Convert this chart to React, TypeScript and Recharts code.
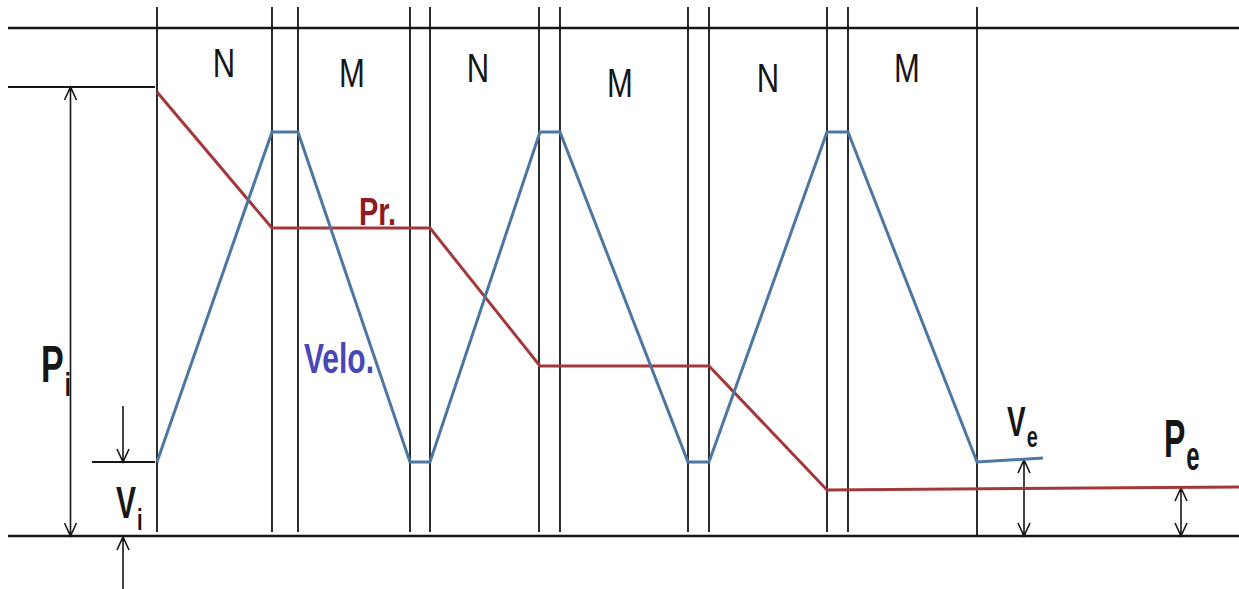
import React from 'react';
import { LineChart, Line, XAxis, YAxis, ReferenceLine, ReferenceDot } from 'recharts';

// ---- data (x = position along the process, v = magnitude above the base line) ----
const pressureX = [157, 272, 430, 540, 709, 827, 1239];
const pressureV = [444, 308, 308, 170, 170, 46, 49];
const velocityX = [157, 272, 298, 410, 430, 540, 560, 688, 709, 827, 848, 977, 1043];
const velocityV = [74, 404, 404, 74, 74, 404, 404, 74, 74, 404, 404, 74, 78];
const phaseBoundaries = [157, 272, 298, 410, 430, 539, 560, 688, 709, 827, 848, 977];
const phaseLabels = ['N', 'M', 'N', 'M', 'N', 'M'];
const seriesLabels = ['Pr.', 'Velo.'];

const pressureData = pressureX.map((x, i) => ({ x, v: pressureV[i] }));
const velocityData = velocityX.map((x, i) => ({ x, v: velocityV[i] }));

// ---- layout ----
const W = 1239;
const H = 589;
const X_DOMAIN: [number, number] = [0, 1239];
const Y_DOMAIN: [number, number] = [-53, 536];
const FONT = '"Liberation Sans", Arial, sans-serif';
const INK = '#161616';
const RED = '#a3383b';
const BLUE = '#4d77a3';

const phaseLabelPos = [
  { x: 224, v: 459 },
  { x: 352, v: 449 },
  { x: 478, v: 454 },
  { x: 620, v: 439 },
  { x: 768, v: 444 },
  { x: 907, v: 454 },
];

type TextSpec = {
  text: string; sub?: string; x: number; v: number; size: number; sy: number;
  subSize?: number; subDy?: number; color: string; bold: boolean; anchor: 'start' | 'middle';
};

const texts: TextSpec[] = [
  ...phaseLabels.map((t, i) => ({
    text: t, x: phaseLabelPos[i].x, v: phaseLabelPos[i].v, size: 31, sy: 1.3,
    color: INK, bold: false, anchor: 'middle' as const,
  })),
  { text: seriesLabels[0], x: 359, v: 311, size: 29, sy: 1.35, color: '#8e1b22', bold: true, anchor: 'start' },
  { text: seriesLabels[1], x: 304, v: 163, size: 30, sy: 1.4, color: '#4747b8', bold: true, anchor: 'start' },
  { text: 'P', sub: 'i', x: 41, v: 154, size: 34, sy: 1.5, subSize: 22, subDy: 9, color: INK, bold: true, anchor: 'start' },
  { text: 'V', sub: 'i', x: 116, v: 18, size: 30, sy: 1.45, subSize: 20, subDy: 8, color: INK, bold: true, anchor: 'start' },
  { text: 'V', sub: 'e', x: 1007, v: 100, size: 28, sy: 1.5, subSize: 20, subDy: 7, color: INK, bold: true, anchor: 'start' },
  { text: 'P', sub: 'e', x: 1164, v: 79, size: 32, sy: 1.7, subSize: 24, subDy: 7.5, color: INK, bold: true, anchor: 'start' },
];

type Seg = { x1: number; v1: number; x2: number; v2: number; w: number };
const rules: Seg[] = [
  { x1: 8, v1: 508, x2: 1239, v2: 508, w: 2.5 },
  { x1: 8, v1: 0, x2: 1239, v2: 0, w: 2.5 },
  { x1: 8, v1: 449, x2: 155, v2: 449, w: 2.2 },
  { x1: 92, v1: 74, x2: 155, v2: 74, w: 2.2 },
];

type Arrow = { x: number; v1: number; v2: number; headStart: boolean; headEnd: boolean };
const arrows: Arrow[] = [
  { x: 70.5, v1: 449, v2: 0, headStart: true, headEnd: true },
  { x: 123, v1: 130, v2: 74, headStart: false, headEnd: true },
  { x: 123, v1: -53, v2: -1, headStart: false, headEnd: true },
  { x: 1024, v1: 76, v2: 0, headStart: true, headEnd: true },
  { x: 1181, v1: 48, v2: 0, headStart: true, headEnd: true },
];

const head = (tx: number, ty: number, fx: number, fy: number) => {
  const dx = tx - fx, dy = ty - fy;
  const len = Math.hypot(dx, dy) || 1;
  const ux = dx / len, uy = dy / len;
  const L = 13, Wd = 6;
  const bx = tx - ux * L, by = ty - uy * L;
  return `M${bx - uy * Wd},${by + ux * Wd}L${tx},${ty}L${bx + uy * Wd},${by - ux * Wd}`;
};

const ArrowShape = (props: any) => {
  const { x1, y1, x2, y2, headStart, headEnd } = props;
  let d = `M${x1},${y1}L${x2},${y2}`;
  if (headStart) d += head(x1, y1, x2, y2);
  if (headEnd) d += head(x2, y2, x1, y1);
  return <path d={d} stroke={INK} strokeWidth={1.6} fill="none" />;
};

const TextShape = (props: any) => {
  const { cx, cy, spec } = props as { cx: number; cy: number; spec: TextSpec };
  return (
    <text
      transform={`translate(${cx},${cy}) scale(1,${spec.sy})`}
      x={0}
      y={0}
      textAnchor={spec.anchor}
      fontFamily={FONT}
      fontSize={spec.size}
      fontWeight={spec.bold ? 700 : 400}
      fill={spec.color}
    >
      {spec.text}
      {spec.sub ? (
        <tspan fontSize={spec.subSize} dy={spec.subDy} dx={1}>
          {spec.sub}
        </tspan>
      ) : null}
    </text>
  );
};

export default function App() {
  return (
    <div style={{ width: W, height: H, background: '#fff' }}>
      <style>{`body{margin:0;background:#fff}`}</style>
      <LineChart width={W} height={H} margin={{ top: 0, right: 0, bottom: 0, left: 0 }}>
        <XAxis type="number" dataKey="x" domain={X_DOMAIN} allowDataOverflow hide />
        <YAxis type="number" dataKey="v" domain={Y_DOMAIN} allowDataOverflow hide />
        {rules.map((r, i) => (
          <ReferenceLine
            key={`r${i}`}
            segment={[{ x: r.x1, y: r.v1 }, { x: r.x2, y: r.v2 }]}
            stroke={INK}
            strokeWidth={r.w}
            ifOverflow="visible"
          />
        ))}
        {phaseBoundaries.map((x, i) => (
          <ReferenceLine
            key={`b${i}`}
            segment={[{ x, y: 529 }, { x, y: i === phaseBoundaries.length - 1 ? 0 : 4 }]}
            stroke={INK}
            strokeWidth={1.8}
            ifOverflow="visible"
          />
        ))}
        {arrows.map((a, i) => (
          <ReferenceLine
            key={`a${i}`}
            segment={[{ x: a.x, y: a.v1 }, { x: a.x, y: a.v2 }]}
            ifOverflow="visible"
            shape={(p: any) => <ArrowShape {...p} headStart={a.headStart} headEnd={a.headEnd} />}
          />
        ))}
        <Line
          data={pressureData}
          dataKey="v"
          type="linear"
          stroke={RED}
          strokeWidth={3}
          dot={false}
          activeDot={false}
          isAnimationActive={false}
        />
        <Line
          data={velocityData}
          dataKey="v"
          type="linear"
          stroke={BLUE}
          strokeWidth={3}
          dot={false}
          activeDot={false}
          isAnimationActive={false}
        />
        {texts.map((t, i) => (
          <ReferenceDot
            key={`t${i}`}
            x={t.x}
            y={t.v}
            r={0}
            ifOverflow="visible"
            shape={(p: any) => <TextShape {...p} spec={t} />}
          />
        ))}
      </LineChart>
    </div>
  );
}
